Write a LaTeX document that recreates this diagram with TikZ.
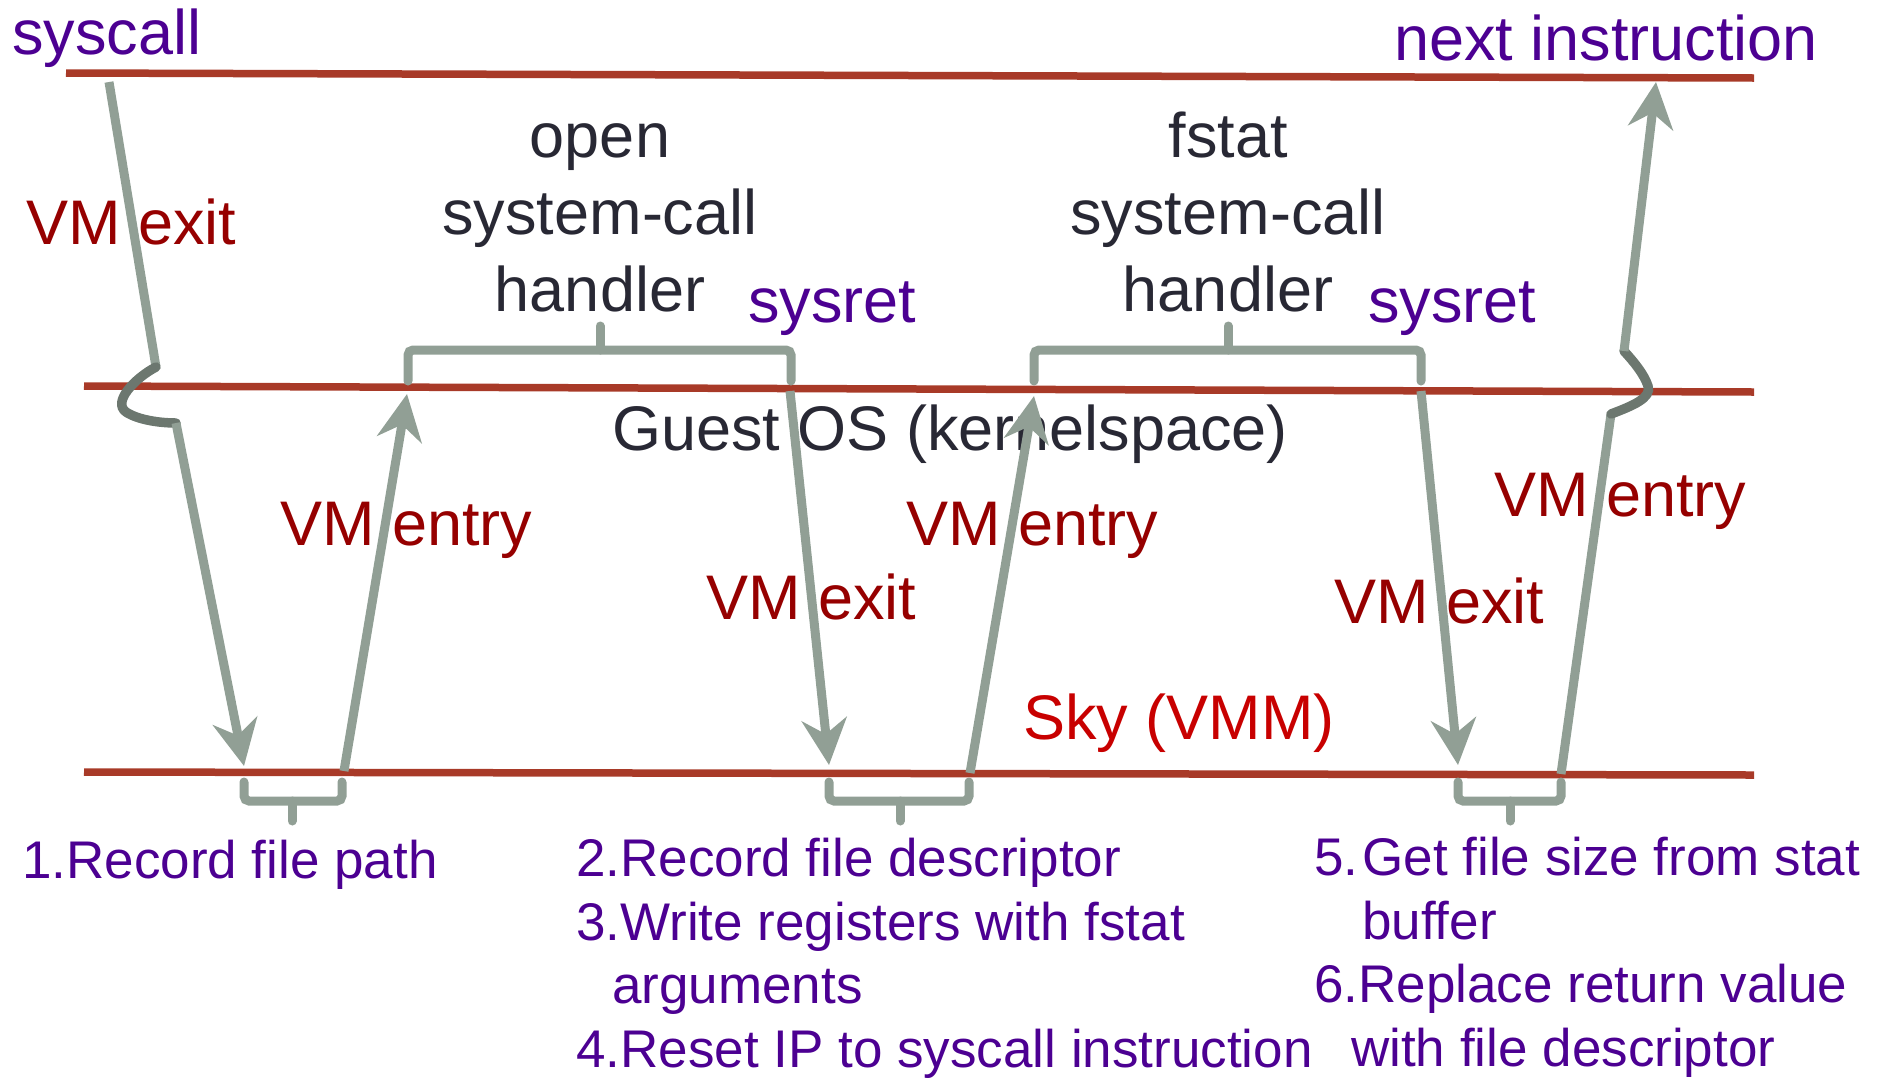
\documentclass[tikz,border=0pt]{standalone}
\usepackage{fontspec}
\setmainfont{Liberation Sans}
\usetikzlibrary{arrows.meta}
\definecolor{lanered}{RGB}{168,58,40}
\definecolor{flowgray}{RGB}{145,159,149}
\definecolor{jumpgray}{RGB}{108,119,111}
\definecolor{evtpurple}{RGB}{76,0,146}
\definecolor{vmred}{RGB}{150,0,0}
\definecolor{skyred}{RGB}{200,0,0}
\definecolor{osdark}{RGB}{40,40,52}
\begin{document}
\begin{tikzpicture}[x=1pt,y=-1pt,
  lane/.style={draw=lanered,line width=7.5pt},
  flow/.style={draw=flowgray,line width=9pt},
  flowarrow/.style={flow,-{Stealth[length=46pt,width=45pt,inset=15pt]}},
  jump/.style={draw=jumpgray,line width=9.5pt,line cap=round},
  brace/.style={draw=flowgray,line width=9pt,rounded corners=5pt,line cap=round},
  big/.style={font=\fontsize{63}{77}\selectfont,inner sep=0pt},
  evt/.style={big,text=evtpurple},
  vm/.style={big,text=vmred},
  os/.style={big,text=osdark},
  note/.style={font=\fontsize{53}{63.5}\selectfont,inner sep=0pt,text=evtpurple}]
\useasboundingbox (0,0) rectangle (1881,1077);

% the three privilege levels
\coordinate (topL) at (66,73);  \coordinate (topR) at (1754,78);
\coordinate (midL) at (84,386); \coordinate (midR) at (1754,392);
\coordinate (botL) at (84,772); \coordinate (botR) at (1754,775);
\draw[lane] (topL) -- (topR);
\draw[lane] (midL) -- (midR);
\draw[lane] (botL) -- (botR);

% labels (multi-line nodes are anchored at the baseline of their last line)
\node[evt,anchor=base west] (syscall) at (12,54) {syscall};
\node[evt,anchor=base west] (nextins) at (1394,60) {next instruction};
\node[vm,anchor=base west] (exitA) at (26,244) {VM exit};
\node[os,align=center,anchor=base] (openh) at (600,311) {open\\system-call\\handler};
\node[os,align=center,anchor=base] (fstath) at (1228,311) {fstat\\system-call\\handler};
\node[evt,anchor=base west] (sysretA) at (748,322) {sysret};
\node[evt,anchor=base west] (sysretB) at (1368,322) {sysret};
\node[os,anchor=base west] (guest) at (612,450) {Guest OS (kernelspace)};
\node[vm,anchor=base west] (entryA) at (280,545) {VM entry};
\node[vm,anchor=base west] (entryB) at (906,545) {VM entry};
\node[vm,anchor=base west] (exitB) at (706,619) {VM exit};
\node[vm,anchor=base west] (entryC) at (1494,516) {VM entry};
\node[vm,anchor=base west] (exitC) at (1334,623) {VM exit};
\node[big,text=skyred,anchor=base west] (sky) at (1023,739) {Sky (VMM)};

% steps taken by the VMM
\node[note,anchor=base west] (stepsA) at (22,878) {1.Record file path};
\node[note,align=left,anchor=base west] (stepsB) at (576,1067)
  {2.Record file descriptor\\3.Write registers with fstat\\\hspace*{36pt}arguments\\4.Reset IP to syscall instruction};
\node[note,align=left,anchor=base west] (stepsC) at (1314,1066)
  {5.\hspace{4pt}Get file size from stat\\\hspace*{48pt}buffer\\6.Replace return value\\\hspace*{37pt}with file descriptor};

% handler spans in the guest kernel
\draw[brace] (408,381) -- (408,350) -- (791,350) -- (791,381);
\draw[brace] (600,350) -- (600,326);
\draw[brace] (1034,381) -- (1034,350) -- (1421,350) -- (1421,381);
\draw[brace] (1228,350) -- (1228,326);

% VMM work spans
\draw[brace] (244,782) -- (244,801) -- (342,801) -- (342,782);
\draw[brace] (292,801) -- (292,821);
\draw[brace] (829,782) -- (829,801) -- (969,801) -- (969,782);
\draw[brace] (900,801) -- (900,821);
\draw[brace] (1458,782) -- (1458,801) -- (1561,801) -- (1561,782);
\draw[brace] (1510,801) -- (1510,821);

% control transfers
\coordinate (a0) at (109,82);  \coordinate (a1) at (156,367);
\coordinate (a2) at (176,423); \coordinate (a3) at (244,766);
\draw[flow] (a0) -- (a1);
\draw[jump] (a1) .. controls (135,378) and (112,402) .. (126,412) .. controls (138,420) and (160,423) .. (a2);
\draw[flowarrow] (a2) -- (a3);

\coordinate (b0) at (344,771); \coordinate (b1) at (407,394);
\draw[flowarrow] (b0) -- (b1);
\coordinate (c0) at (790,391); \coordinate (c1) at (829,765);
\draw[flowarrow] (c0) -- (c1);
\coordinate (d0) at (970,773); \coordinate (d1) at (1034,396);
\draw[flowarrow] (d0) -- (d1);
\coordinate (e0) at (1421,391); \coordinate (e1) at (1458,765);
\draw[flowarrow] (e0) -- (e1);

\coordinate (f0) at (1561,774); \coordinate (f1) at (1611,414);
\coordinate (f2) at (1624,351); \coordinate (f3) at (1656,82);
\draw[flow] (f0) -- (f1);
\draw[jump] (f1) .. controls (1632,406) and (1652,398) .. (1648,386) .. controls (1644,374) and (1634,362) .. (f2);
\draw[flowarrow] (f2) -- (f3);
\end{tikzpicture}
\end{document}
